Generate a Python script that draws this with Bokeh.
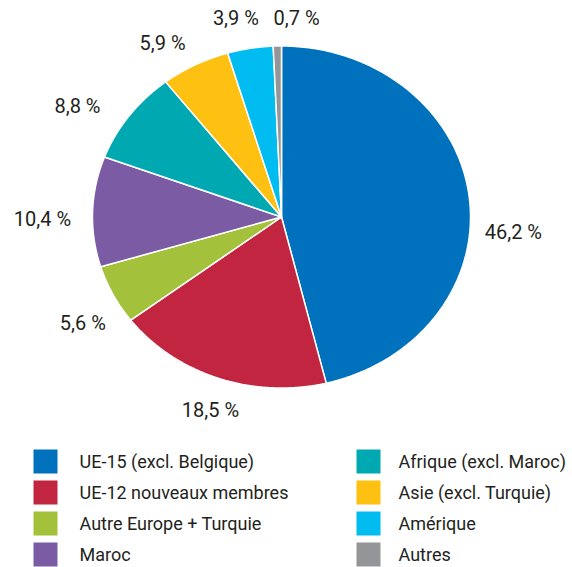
import numpy as np
from bokeh.plotting import figure
from bokeh.models import ColumnDataSource, Range1d
from bokeh.core.properties import value
from bokeh.embed import file_html
from bokeh.resources import INLINE

# ---- data ----
categories = ["UE-15 (excl. Belgique)", "UE-12 nouveaux membres", "Autre Europe + Turquie",
              "Maroc", "Afrique (excl. Maroc)", "Asie (excl. Turquie)", "Amérique", "Autres"]
shares = [46.2, 18.5, 5.6, 10.4, 8.8, 5.9, 3.9, 0.7]
colors = ["#0071bc", "#c1253f", "#a3c13b", "#7a5ba4", "#00a9b1", "#fec111", "#00bcf0", "#939598"]

# ---- layout (page pixels -> data units of a unit ellipse) ----
W, H = 572, 567
OFF = 0
CX, CY = 281 - OFF, 216.5 - OFF  # pie centre in figure pixels
RX, RY = 189.0, 171.0            # pie radii in pixels
FONT = "Roboto"
TXT = "#231f20"

def dx(px):
    return (px - OFF - CX) / RX

def dy(py):
    return (CY - (py - OFF)) / RY

p = figure(width=W, height=H, output_backend="svg", toolbar_location=None,
           x_range=Range1d(-CX / RX, (W - CX) / RX), y_range=Range1d(-(H - CY) / RY, CY / RY),
           min_border=0, outline_line_color=None)
p.axis.visible = False
p.grid.visible = False
p.background_fill_color = "white"
p.border_fill_color = "white"

# ---- slices, clockwise from top ----
vals = np.array(shares)
cum = np.concatenate([[0], np.cumsum(vals)]) / vals.sum()
start = np.pi / 2 - 2 * np.pi * cum[:-1]
end = np.pi / 2 - 2 * np.pi * cum[1:]
xs, ys = [], []
for a0, a1 in zip(start, end):
    t = np.linspace(a0, a1, 200)
    xs.append(np.concatenate([[0], np.cos(t), [0]]).tolist())
    ys.append(np.concatenate([[0], np.sin(t), [0]]).tolist())
p.patches(xs=xs, ys=ys, fill_color=colors, line_color="white", line_width=1.5)

# ---- value labels ----
lab_off = np.radians([-11, 1.2, 3.5, 2.2, 5.3, 4.6, 2.2, -5.2])
lab_r = [1.23, 1.19, 1.22, 1.265, 1.26, 1.195, 1.186, 1.164]
mid = (start + end) / 2 + lab_off
lab_src = ColumnDataSource(dict(
    x=np.array(lab_r) * np.cos(mid), y=np.array(lab_r) * np.sin(mid),
    t=[f"{v:.1f}".replace(".", ",") + " %" for v in shares]))
p.text(x="x", y="y", text="t", source=lab_src, text_font=value(FONT), text_font_size="20px",
       text_color=TXT, text_align="center", text_baseline="middle")

# ---- legend (two columns of four) ----
col_sq = [45, 368]
col_tx = [79, 398]
row_y = [461, 492, 523, 554]
n = len(categories)
lx = [dx(col_sq[i // 4]) for i in range(n)]
ly = [dy(row_y[i % 4]) for i in range(n)]
tx = [dx(col_tx[i // 4]) for i in range(n)]
p.scatter(x=lx, y=ly, marker="square", size=24, fill_color=colors, line_color=None)
p.text(x=tx, y=ly, text=categories, text_font=value(FONT), text_font_size="18px",
       text_color=TXT, text_align="left", text_baseline="middle")

open("out.html", "w").write(file_html(p, INLINE))
